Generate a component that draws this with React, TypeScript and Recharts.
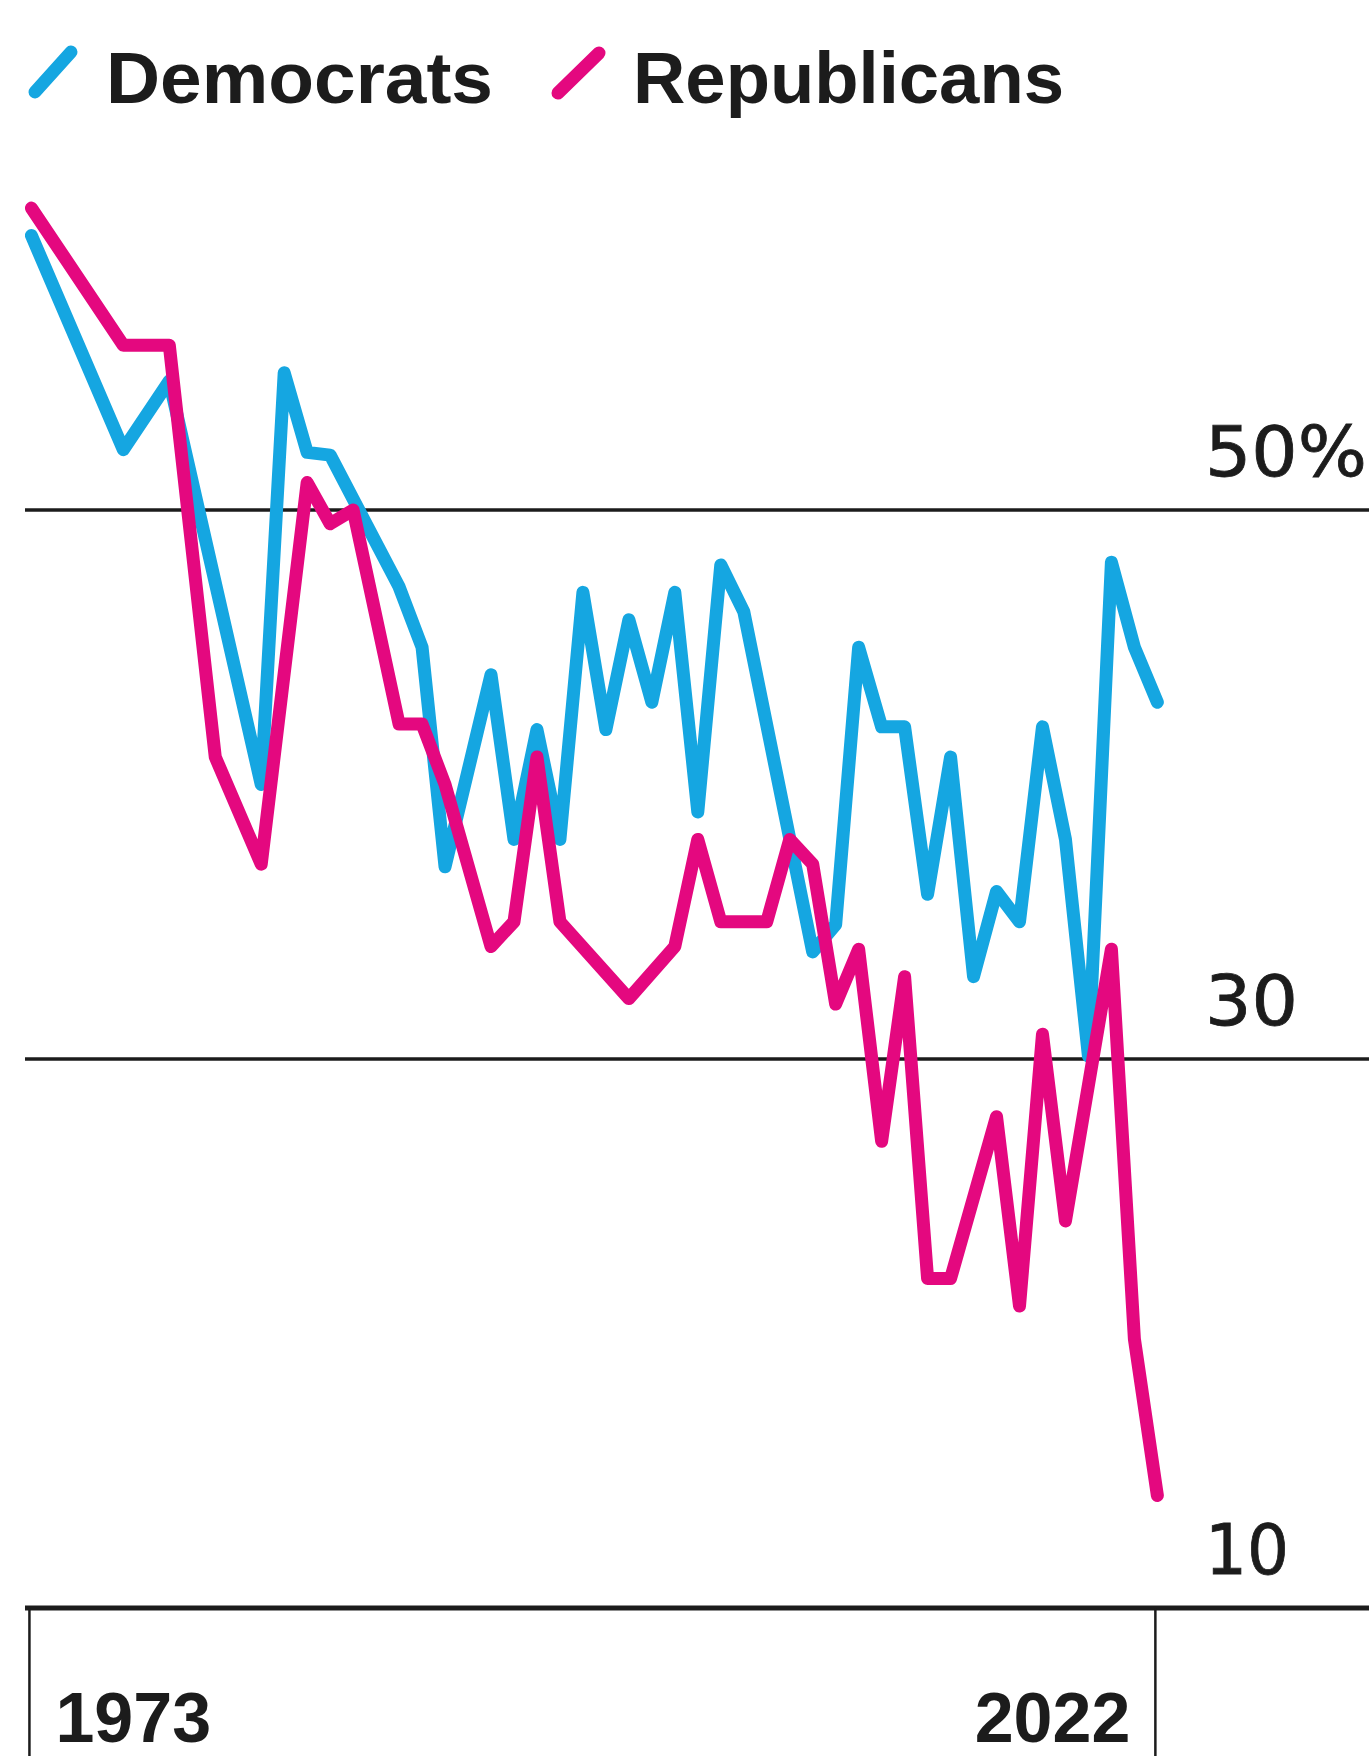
import { LineChart, Line, XAxis, YAxis, ReferenceLine } from 'recharts';

const DEM = '#15a6e1';
const REP = '#e4087f';
const INK = '#1c1c1c';

const demYears = [1973, 1977, 1979, 1983, 1984, 1985, 1986, 1989, 1990, 1991, 1993, 1994, 1995, 1996, 1997, 1998, 1999, 2000, 2001, 2002, 2003, 2004, 2007, 2008, 2009, 2010, 2011, 2012, 2013, 2014, 2015, 2016, 2017, 2018, 2019, 2020, 2021, 2022];
const demValues = [60.0, 52.2, 54.7, 40.0, 55.0, 52.1, 52.0, 47.2, 45.0, 37.0, 44.0, 38.0, 42.0, 38.0, 47.0, 42.0, 46.0, 43.0, 47.0, 39.0, 48.0, 46.3, 33.9, 34.9, 45.0, 42.1, 42.1, 36.0, 41.0, 33.0, 36.1, 35.0, 42.1, 38.0, 30.1, 48.1, 45.0, 43.0];

const repYears = [1973, 1977, 1979, 1981, 1983, 1985, 1986, 1987, 1989, 1990, 1991, 1993, 1994, 1995, 1996, 1999, 2001, 2002, 2003, 2005, 2006, 2007, 2008, 2009, 2010, 2011, 2012, 2013, 2015, 2016, 2017, 2018, 2020, 2021, 2022];
const repValues = [61.0, 56.0, 56.0, 41.0, 37.1, 51.0, 49.5, 50.0, 42.2, 42.2, 40.0, 34.1, 35.0, 41.0, 35.0, 32.2, 34.1, 38.0, 35.0, 35.0, 38.0, 37.1, 32.0, 34.0, 27.0, 33.0, 22.0, 22.0, 27.9, 21.0, 30.9, 24.1, 34.0, 19.8, 14.1];

const yearTicks = [1973, 2022];
const gridValues = [50, 30, 10];
const gridLabels = ['50%', '30', '10'];
const gridLabelWidths = [162, 93, 84];

const years = Array.from(new Set([...demYears, ...repYears])).sort((a, b) => a - b);
const rows = years.map((year) => ({
  year,
  dem: demValues[demYears.indexOf(year)] ?? null,
  rep: repValues[repYears.indexOf(year)] ?? null,
}));

function YearTick({ x, y, payload }: any) {
  const first = payload.value === yearTicks[0];
  return (
    <g>
      <line x1={x - 2} y1={y} x2={x - 2} y2={y + 150} stroke={INK} strokeWidth={2.5} />
      <text
        x={first ? x + 24 : x - 27}
        y={y + 134}
        textAnchor={first ? 'start' : 'end'}
        fontFamily="Liberation Sans, Arial, sans-serif"
        fontWeight={700}
        fontSize={70}
        fill={INK}
      >
        {payload.value}
      </text>
    </g>
  );
}

function GridLabel({ viewBox, idx }: any) {
  return (
    <text
      x={1205}
      y={viewBox.y - 34}
      fontFamily="DejaVu Sans, sans-serif"
      fontSize={70}
      fill={INK}
      stroke={INK}
      strokeWidth={0.8}
      textLength={gridLabelWidths[idx]}
      lengthAdjust="spacingAndGlyphs"
    >
      {gridLabels[idx]}
    </text>
  );
}

function Legend() {
  const font = { fontFamily: 'Liberation Sans, Arial, sans-serif', fontWeight: 700, fontSize: 73, fill: INK };
  return (
    <svg width={1369} height={140} style={{ position: 'absolute', left: 0, top: 0 }}>
      <line x1={35} y1={92} x2={71} y2={52} stroke={DEM} strokeWidth={13} strokeLinecap="round" />
      <text x={106} y={103} {...font} textLength={387} lengthAdjust="spacingAndGlyphs">Democrats</text>
      <line x1={558} y1={93} x2={599} y2={53} stroke={REP} strokeWidth={13} strokeLinecap="round" />
      <text x={633} y={103} {...font} textLength={431} lengthAdjust="spacingAndGlyphs">Republicans</text>
    </svg>
  );
}

export default function App() {
  return (
    <div style={{ position: 'absolute', left: 0, top: 0, width: 1369, height: 1756, background: '#fff' }}>
      <LineChart width={1369} height={1756} data={rows} margin={{ top: 180.6, right: 0, bottom: 0, left: 25 }}>
        <XAxis
          dataKey="year"
          type="number"
          domain={[1972.72, 2031.21]}
          allowDataOverflow
          ticks={yearTicks}
          interval={0}
          height={148}
          axisLine={false}
          tickLine={false}
          tickSize={0}
          tickMargin={0}
          tick={(props: any) => <YearTick {...props} />}
        />
        <YAxis hide domain={[10, 62]} allowDataOverflow />
        {gridValues.map((v, i) => (
          <ReferenceLine
            key={v}
            y={v}
            stroke={INK}
            strokeWidth={v === 10 ? 5 : 3.5}
            label={(props: any) => <GridLabel {...props} idx={i} />}
          />
        ))}
        <Line
          dataKey="dem"
          stroke={DEM}
          strokeWidth={13}
          strokeLinejoin="round"
          strokeLinecap="round"
          dot={false}
          activeDot={false}
          connectNulls
          isAnimationActive={false}
        />
        <Line
          dataKey="rep"
          stroke={REP}
          strokeWidth={13}
          strokeLinejoin="round"
          strokeLinecap="round"
          dot={false}
          activeDot={false}
          connectNulls
          isAnimationActive={false}
        />
      </LineChart>
      <Legend />
    </div>
  );
}
